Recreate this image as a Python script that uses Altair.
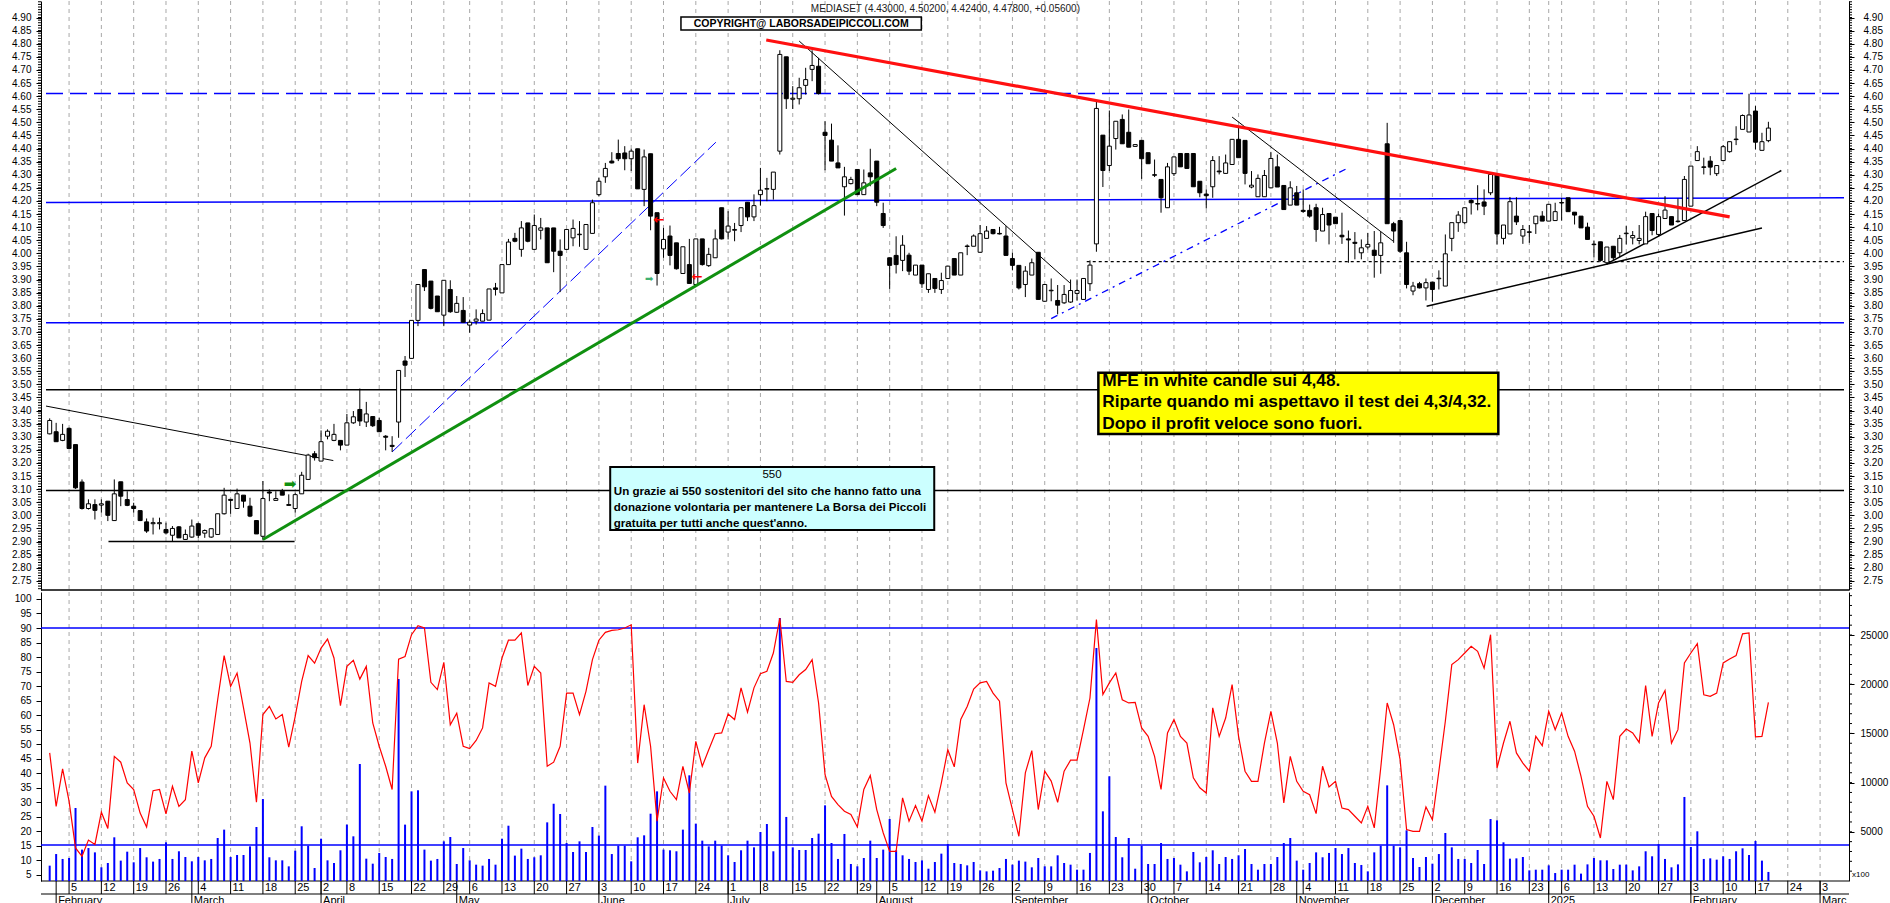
import altair as alt
import pandas as pd

# ---------------- data ----------------
OPEN = [3.311,3.319,3.286,3.332,3.270,3.127,3.026,3.041,3.039,3.054,2.980,3.128,3.060,3.035,3.018,2.975,2.968,2.968,2.946,2.924,
        2.956,2.908,2.917,2.968,2.932,2.917,2.927,3.006,3.061,3.026,3.077,3.035,2.980,2.920,3.089,3.057,3.092,3.041,3.026,3.082,
        3.137,3.235,3.207,3.302,3.286,3.286,3.268,3.353,3.404,3.356,3.377,3.362,3.302,3.267,3.356,3.589,3.599,3.744,3.938,3.894,
        3.837,3.764,3.862,3.775,3.782,3.726,3.741,3.741,3.745,3.868,3.849,3.957,4.057,4.015,4.116,4.015,4.088,4.097,4.097,4.008,
        4.015,4.059,4.071,4.015,4.076,4.224,4.292,4.352,4.381,4.383,4.361,4.399,4.244,4.380,4.155,4.017,4.066,4.040,3.923,3.957,
        3.881,4.055,3.953,3.983,4.174,4.081,4.088,4.106,4.195,4.139,4.224,4.245,4.244,4.390,4.750,4.588,4.590,4.641,4.702,4.714,
        4.462,4.432,4.345,4.254,4.266,4.320,4.224,4.307,4.352,4.152,3.983,3.992,3.973,3.993,3.917,3.955,3.862,3.904,3.862,3.904,
        3.980,3.917,4.026,4.027,4.004,4.057,4.091,4.076,4.066,3.980,3.954,3.881,3.917,4.004,3.817,3.857,3.820,3.811,3.814,3.847,
        3.824,3.884,4.036,4.451,4.335,4.438,4.511,4.462,4.408,4.431,4.384,4.300,4.282,4.174,4.304,4.381,4.381,4.381,4.275,4.226,
        4.254,4.314,4.305,4.339,4.435,4.431,4.253,4.216,4.216,4.250,4.330,4.259,4.184,4.231,4.164,4.164,4.174,4.085,4.152,4.138,
        4.069,4.055,4.042,4.002,4.024,4.012,3.992,4.418,4.113,4.125,4.002,3.856,3.884,3.868,3.890,3.903,3.875,4.057,4.117,4.117,
        4.202,4.190,4.196,4.231,4.299,4.057,4.074,4.142,4.066,4.082,4.113,4.142,4.123,4.125,4.192,4.212,4.157,4.142,4.100,4.035,
        4.044,3.964,4.027,4.002,4.075,4.059,4.049,4.036,4.152,4.072,4.133,4.140,4.123,4.125,4.180,4.354,4.330,4.352,4.304,4.354,
        4.388,4.436,4.473,4.463,4.543,4.393,4.430]
HIGH = [3.370,3.353,3.349,3.335,3.270,3.137,3.061,3.061,3.061,3.054,3.137,3.128,3.092,3.048,3.018,2.988,2.991,2.991,2.972,2.959,
        2.959,2.946,2.984,2.972,2.946,2.949,3.006,3.105,3.061,3.102,3.077,3.067,2.980,3.131,3.099,3.092,3.101,3.080,3.086,3.166,
        3.235,3.245,3.324,3.328,3.349,3.286,3.387,3.398,3.484,3.433,3.377,3.372,3.306,3.302,3.553,3.608,3.744,3.881,3.938,3.894,
        3.837,3.897,3.897,3.837,3.833,3.747,3.786,3.786,3.864,3.887,3.957,4.055,4.078,4.123,4.116,4.148,4.135,4.097,4.097,4.053,
        4.091,4.129,4.123,4.110,4.205,4.288,4.345,4.386,4.434,4.409,4.399,4.399,4.396,4.380,4.155,4.097,4.106,4.040,4.025,4.055,
        4.055,4.055,4.021,4.091,4.174,4.161,4.116,4.174,4.195,4.225,4.326,4.288,4.310,4.775,4.750,4.638,4.670,4.708,4.775,4.746,
        4.504,4.495,4.412,4.330,4.292,4.320,4.320,4.399,4.352,4.193,3.983,4.065,4.069,4.002,3.955,3.955,3.922,3.904,3.926,3.951,
        3.980,4.002,4.034,4.072,4.108,4.104,4.091,4.101,4.104,4.002,3.954,3.951,3.980,4.004,3.881,3.904,3.879,3.879,3.900,3.900,
        3.904,3.973,4.583,4.451,4.545,4.504,4.530,4.549,4.415,4.431,4.384,4.358,4.282,4.345,4.368,4.381,4.381,4.381,4.275,4.244,
        4.371,4.371,4.377,4.435,4.482,4.431,4.314,4.301,4.318,4.387,4.377,4.259,4.275,4.257,4.244,4.186,4.189,4.174,4.152,4.138,
        4.155,4.087,4.081,4.053,4.078,4.085,4.082,4.498,4.120,4.125,4.044,3.891,3.891,3.904,3.890,3.935,4.072,4.117,4.161,4.174,
        4.206,4.260,4.244,4.301,4.299,4.108,4.215,4.214,4.108,4.108,4.142,4.161,4.187,4.193,4.212,4.212,4.157,4.142,4.117,4.049,
        4.044,4.024,4.027,4.070,4.104,4.085,4.108,4.159,4.152,4.152,4.218,4.140,4.209,4.295,4.333,4.409,4.365,4.371,4.335,4.413,
        4.426,4.485,4.530,4.609,4.562,4.460,4.502]
LOW = [3.309,3.281,3.283,3.255,3.101,3.022,3.022,2.984,3.010,2.978,2.980,3.035,3.035,3.010,2.978,2.933,2.927,2.946,2.927,2.901,
       2.914,2.908,2.914,2.914,2.914,2.914,2.927,3.003,3.006,3.026,3.029,2.993,2.929,2.907,3.054,3.057,3.077,3.038,3.010,3.082,
       3.137,3.209,3.207,3.290,3.283,3.248,3.268,3.349,3.341,3.337,3.337,3.319,3.248,3.242,3.296,3.528,3.599,3.722,3.856,3.786,
       3.777,3.722,3.773,3.773,3.735,3.697,3.728,3.741,3.745,3.839,3.849,3.957,4.042,3.987,4.042,4.015,4.053,3.964,3.928,3.852,
       4.015,4.027,4.025,4.015,4.076,4.218,4.269,4.343,4.352,4.317,4.314,4.246,4.180,4.088,3.877,3.983,3.954,3.938,3.923,3.885,
       3.875,3.953,3.948,3.983,4.053,4.053,4.046,4.081,4.123,4.123,4.182,4.199,4.205,4.377,4.551,4.551,4.568,4.606,4.657,4.606,
       4.317,4.352,4.326,4.144,4.263,4.224,4.224,4.256,4.180,4.097,3.864,3.923,3.932,3.917,3.917,3.868,3.849,3.849,3.845,3.904,
       3.917,3.917,3.993,4.027,4.002,4.057,4.072,4.072,3.992,3.935,3.862,3.833,3.917,3.824,3.815,3.817,3.767,3.807,3.811,3.820,
       3.824,3.856,4.006,4.253,4.314,4.396,4.418,4.405,4.408,4.284,4.342,4.291,4.155,4.174,4.295,4.330,4.324,4.254,4.214,4.171,
       4.212,4.301,4.305,4.339,4.365,4.263,4.248,4.216,4.216,4.250,4.253,4.167,4.184,4.184,4.155,4.136,4.044,4.085,4.034,4.113,
       4.036,3.964,3.977,3.977,4.015,3.907,3.922,4.113,4.040,4.002,3.866,3.840,3.866,3.820,3.815,3.862,3.875,4.008,4.082,4.110,
       4.148,4.164,4.146,4.222,4.034,4.034,4.074,4.108,4.036,4.040,4.074,4.123,4.123,4.125,4.125,4.159,4.110,4.097,4.053,3.985,
       3.968,3.957,3.970,3.985,4.034,4.034,4.034,4.036,4.069,4.063,4.133,4.108,4.117,4.125,4.180,4.354,4.301,4.298,4.295,4.352,
       4.384,4.413,4.473,4.463,4.396,4.393,4.424]
CLOSE = [3.362,3.281,3.309,3.255,3.105,3.026,3.044,3.019,3.044,3.000,3.082,3.073,3.038,3.026,2.980,2.940,2.972,2.972,2.933,2.950,
         2.914,2.927,2.959,2.924,2.942,2.949,3.006,3.077,3.057,3.082,3.054,2.997,2.929,3.064,3.085,3.064,3.077,3.038,3.079,3.153,
         3.230,3.220,3.281,3.321,3.309,3.268,3.353,3.376,3.360,3.387,3.342,3.319,3.298,3.263,3.553,3.573,3.744,3.881,3.872,3.790,
         3.777,3.897,3.777,3.809,3.737,3.737,3.749,3.770,3.864,3.862,3.957,4.043,4.046,4.097,4.046,4.106,4.097,3.964,4.008,3.992,
         4.091,4.095,4.073,4.110,4.193,4.275,4.324,4.345,4.361,4.361,4.390,4.246,4.368,4.142,3.923,4.053,3.992,3.941,4.025,3.885,
         4.055,3.957,3.996,4.055,4.055,4.104,4.091,4.174,4.139,4.182,4.241,4.247,4.310,4.759,4.590,4.592,4.632,4.663,4.717,4.610,
         4.450,4.352,4.326,4.292,4.282,4.224,4.269,4.292,4.195,4.106,3.954,3.957,4.031,3.932,3.955,3.884,3.922,3.866,3.896,3.951,
         3.917,4.002,4.028,4.066,4.075,4.085,4.075,4.074,3.992,3.954,3.868,3.932,3.964,3.824,3.881,3.859,3.802,3.843,3.858,3.858,
         3.904,3.955,4.553,4.316,4.409,4.504,4.418,4.405,4.415,4.361,4.342,4.298,4.212,4.330,4.368,4.330,4.324,4.254,4.231,4.220,
         4.354,4.311,4.345,4.435,4.365,4.305,4.260,4.286,4.297,4.362,4.253,4.167,4.250,4.184,4.160,4.142,4.091,4.148,4.108,4.113,
         4.063,4.051,4.038,4.021,4.034,3.992,4.040,4.113,4.085,4.008,3.881,3.875,3.868,3.888,3.862,3.905,3.998,4.117,4.146,4.174,
         4.193,4.188,4.180,4.301,4.074,4.108,4.197,4.120,4.091,4.080,4.142,4.123,4.187,4.159,4.194,4.159,4.146,4.097,4.053,4.033,
         3.973,4.024,3.983,4.057,4.077,4.068,4.057,4.140,4.087,4.140,4.165,4.108,4.121,4.282,4.333,4.388,4.328,4.329,4.335,4.407,
         4.426,4.434,4.526,4.528,4.424,4.426,4.478]
OSC = [47,28.6,41.5,30.4,14.3,11.4,17,15.5,26.6,21,45.8,43.8,36.7,34.4,26.3,21.5,34,34.4,26,35.5,
       28.6,30.9,47.6,36.7,45.3,49.3,65.3,80.5,69.9,74.5,62.5,50.4,30,60.2,63,58.7,60.2,49,59.6,71.6,
       80.5,77.9,83.1,86.2,79.7,63.3,76.8,78.9,72.4,76.8,57.3,49.3,42.4,34.4,79.3,80.2,87.7,90.8,90,71.3,
       68.8,78.2,56.7,60.7,49.3,48.5,51.3,55.6,71.1,69.9,79.7,85.8,85.8,88.3,70.2,76.8,74.5,42.4,43.8,49.3,
       67.6,67.6,60.2,68.2,79.1,85.8,88.5,89.2,89.4,90,91.1,43.5,63.6,49.3,23.5,38.4,33.8,30.9,42.4,33.2,
       51,42.4,48.1,53.6,53.9,60.4,58.5,69.4,61,69.4,74.3,75.1,81.4,93.4,71.6,71.3,73.9,75.7,79.1,64.2,
       39.5,32,29.2,26.9,25.8,21.5,34.4,39.2,27.5,19.5,13.1,13.1,31.5,23.5,28.9,23.5,32.3,26.6,36.7,48.1,
       42.2,58.5,63,69,71.1,71.6,67.6,64.8,36.7,27.5,18.3,40.1,47.8,27.5,40.7,37.3,30,40.7,44.5,44.5,
       55,65.9,92.9,67.1,71.1,74.5,65.3,64.2,64.4,55.6,52.7,45.8,34.4,53.9,58.5,52.7,50.4,38.4,35,33.2,
       62.5,52.7,59,70.5,52.7,40.7,37.2,37.2,50.4,61.3,50.4,29.8,45.8,37.2,33.8,32.6,26.1,42.4,35.3,37.2,
       28,27.5,25.2,22.9,28.6,21.2,41.8,64.2,56.7,44.7,20.6,20,20,28.4,24,40.7,57.9,77.4,79.1,81.4,
       83.7,82,76.2,87.7,41.8,50.4,57.9,47,43.5,40.7,52.7,49.5,61.3,55,60.7,52.7,47.6,38.9,28.6,25.2,
       17.7,37.2,30.9,52.7,55.2,53.9,50.6,70.2,52.7,64.2,68.5,50.4,55,78,81.4,84.6,67,66.5,67.6,78,
       79.3,80.5,88,88.3,52.5,52.7,64.4]
VOL = [1560,2740,2240,2340,7420,3190,3350,2910,1390,1830,4440,2070,2980,1900,3350,2410,1970,2240,3930,2240,
       3020,2440,2000,2440,2100,2240,4370,5220,2440,2640,2640,3520,5490,8330,2410,2100,2100,1490,3080,5560,
       3590,1320,4300,2100,1830,3120,5730,4540,11890,2270,1760,2850,2440,2240,20530,5730,9110,9220,3190,2070,
       2240,4030,4470,1730,3350,2100,1660,1560,2240,1660,4300,5620,2580,3290,2240,2410,2610,5960,7860,6810,
       3860,2950,4030,2950,5490,4610,9690,2740,3590,3590,2000,4440,4640,6840,9110,3190,3120,3020,5220,10740,
       5830,4100,3520,4100,3590,2610,1930,3120,4100,3420,4980,5790,3020,26730,6510,3420,3150,3150,4370,4810,
       7690,3860,2240,4780,1730,1490,2340,4100,2340,3190,6300,3120,2610,2240,1930,2100,1250,1930,2780,3760,
       1830,1730,1590,1930,1080,980,1050,1320,2240,1660,2070,1970,1390,2340,1490,1490,2610,1830,1660,1150,
       1150,2850,23680,7080,10640,4470,2410,4370,1250,3590,1730,1730,3860,2240,2340,1660,980,2950,1900,2440,
       3120,1730,2440,2240,2610,3250,1730,1150,1730,1730,2440,3860,4370,2070,1150,1830,2910,2410,2850,3350,
       2740,3350,1830,1630,980,2910,3590,9720,3590,3420,5150,2340,1420,2440,1760,2740,4880,3420,2240,2240,
       1830,3150,1730,6300,6170,3930,2270,2300,2440,1080,1150,1150,1590,810,1150,1150,1660,750,1690,2340,
       2100,2100,1220,1660,1660,1080,1490,3020,2510,3760,2240,1390,1690,8540,3460,5050,2240,2300,2170,2510,
       2240,3020,3320,2640,4070,2070,920]

HOLIDAYS = ["2024-03-29", "2024-04-01", "2024-05-01", "2024-08-15", "2024-12-24",
            "2024-12-25", "2024-12-26", "2024-12-31", "2025-01-01"]
# the short year-end week is marked on the first session of the new year, without a day number
WEEK_MARK_MOVES = {"2024-12-30": ("2025-01-02", "")}
MONTH_LABELS = ["February", "March", "April", "May", "June", "July", "August", "September",
                "October", "November", "December", "2025", "February", "Marc"]
PRICE_TICKS = [round(2.75 + 0.05 * k, 2) for k in range(44)]
OSC_TICKS = list(range(5, 101, 5))
VOL_TICKS = [5000, 10000, 15000, 20000, 25000]

TITLE = "MEDIASET (4.43000, 4.50200, 4.42400, 4.47800, +0.05600)"
COPYRIGHT = "COPYRIGHT@ LABORSADEIPICCOLI.COM"
CYAN_TITLE = "550"
CYAN_LINES = ["Un grazie ai 550 sostenitori del sito che hanno fatto una",
              "donazione volontaria per mantenere La Borsa dei Piccoli",
              "gratuita per tutti anche quest'anno."]
YELLOW_LINES = ["MFE in white candle sui 4,48.",
                "Riparte quando mi aspettavo il test dei 4,3/4,32.",
                "Dopo il profit veloce sono fuori."]

# drawn study lines: (index0, price0, index1, price1)
LEVEL_LINES = [
    dict(pts=(-0.57, 4.61, 277.7, 4.61), color="#0000ff", w=1.5, dash=[17, 7]),
    dict(pts=(-0.57, 4.194, 277.7, 4.212), color="#0000ff", w=1.5, dash=None),
    dict(pts=(-0.57, 3.735, 277.7, 3.735), color="#0000ff", w=1.5, dash=None),
    dict(pts=(-0.57, 3.479, 277.7, 3.479), color="black", w=1.5, dash=None),
    dict(pts=(-0.57, 3.095, 277.7, 3.095), color="black", w=1.5, dash=None),
    dict(pts=(160.5, 3.968, 277.7, 3.968), color="black", w=1.2, dash=[3, 3]),
    dict(pts=(9.1, 2.900, 37.9, 2.900), color="black", w=1.5, dash=None),
]
TREND_LINES = [
    dict(pts=(-0.57, 3.417, 43.9, 3.209), color="black", w=1, dash=None),
    dict(pts=(53.0, 3.242, 103.1, 4.424), color="#0000ff", w=1, dash=[14, 5]),
    dict(pts=(116.0, 4.810, 157.9, 3.887), color="black", w=1, dash=None),
    dict(pts=(155.0, 3.751, 200.8, 4.324), color="#0000ff", w=1.3, dash=[7, 5, 2, 5]),
    dict(pts=(183.0, 4.520, 207.9, 4.047), color="black", w=1, dash=None),
    dict(pts=(213.1, 3.798, 265.0, 4.097), color="black", w=1.5, dash=None),
    dict(pts=(241.0, 3.960, 268.0, 4.316), color="black", w=1.5, dash=None),
    dict(pts=(33.0, 2.908, 131.0, 4.324), color="#109010", w=3, dash=None),
    dict(pts=(110.9, 4.814, 260.0, 4.139), color="#ff1010", w=3.2, dash=None),
]

# ---------------- geometry ----------------
XMIN, XMAX = -0.57, 277.7
W, HT, HB = 1808, 589, 289
XS = alt.Scale(domain=[XMIN, XMAX], nice=False, zero=False)
PS = alt.Scale(domain=[2.715, 4.963], nice=False, zero=False)
RS = alt.Scale(domain=[2.9, 102.4], nice=False, zero=False)
VS = alt.Scale(domain=[0, 29370], nice=False, zero=False)

AX = dict(title=None, grid=False, domainColor="black", domainWidth=1, tickColor="black",
          tickSize=5, labelColor="black", labelFont="Liberation Sans", labelFontSize=10,
          labelOverlap=False, labelFlush=False, labelBound=False, minExtent=41, maxExtent=41)
PAX_L = alt.Axis(orient="left", values=PRICE_TICKS, format=".2f", labelPadding=5, **AX)
PAX_R = alt.Axis(orient="right", values=PRICE_TICKS, format=".2f", labelPadding=9, **AX)
OAX_L = alt.Axis(orient="left", values=OSC_TICKS, format="d", labelPadding=5, **AX)
VAX_R = alt.Axis(orient="right", values=VOL_TICKS, format="d", labelPadding=6, **AX)

X = alt.X("i:Q", scale=XS, axis=None)


def YP(field):
    return alt.Y(field, scale=PS, axis=PAX_L)


# ---------------- calendar ----------------
cal = pd.bdate_range("2024-01-31", "2025-03-07")
cal = cal[~cal.isin(pd.to_datetime(HOLIDAYS))]
cal_df = pd.DataFrame({"date": cal, "i": range(len(cal))})
pos = {d.strftime("%Y-%m-%d"): k for k, d in enumerate(cal)}
wd = cal_df["date"].dt.weekday
wk_df = cal_df[(wd.diff() < 0)].copy()
wk_df["lab"] = wk_df["date"].dt.day.astype(str)
for src, (dst, lab) in WEEK_MARK_MOVES.items():
    m = wk_df["i"] == pos[src]
    wk_df.loc[m, "i"] = pos[dst]
    wk_df.loc[m, "lab"] = lab
wk_df = wk_df[["i", "lab"]]
mo_df = cal_df[(cal_df["date"].dt.month.diff() != 0) & (cal_df["i"] > 0)].copy()
mo_df = mo_df[["i"]].reset_index(drop=True)
mo_df["lab"] = MONTH_LABELS[:len(mo_df)]

n = len(OPEN)
cdf = pd.DataFrame({"i": range(n), "o": OPEN, "h": HIGH, "l": LOW, "c": CLOSE})
cdf["up"] = cdf["c"] >= cdf["o"]
odf = pd.DataFrame({"i": range(n), "v": OSC})
vdf = pd.DataFrame({"i": range(n), "vol": VOL})


def seg_layer(spec):
    i0, p0, i1, p1 = spec["pts"]
    d = pd.DataFrame({"i": [i0, i1], "p": [p0, p1]})
    kw = dict(color=spec["color"], strokeWidth=spec["w"], clip=True)
    if spec["dash"]:
        kw["strokeDash"] = spec["dash"]
    return alt.Chart(d).mark_line(**kw).encode(x=X, y=YP("p:Q"))


def text_layer(i, p, t, **kw):
    d = pd.DataFrame({"i": i, "p": p, "t": t})
    return alt.Chart(d).mark_text(**kw).encode(x=X, y=YP("p:Q"), text="t:N")


# ---------------- top panel ----------------
T = []
T.append(alt.Chart(wk_df).mark_rule(color="#a8a8a8", strokeDash=[4, 4], strokeWidth=1)
         .encode(x=X, y=alt.value(0), y2=alt.value(HT)))
for s in LEVEL_LINES:
    T.append(seg_layer(s))
for s in TREND_LINES[:7]:
    T.append(seg_layer(s))

T.append(alt.Chart(cdf).mark_rule(color="black", strokeWidth=1)
         .encode(x=X, y=YP("l:Q"), y2="h:Q"))
T.append(alt.Chart(cdf).mark_bar(size=4, stroke="black", strokeWidth=1)
         .encode(x=X, y=YP("o:Q"), y2="c:Q",
                 fill=alt.condition("datum.up", alt.value("white"), alt.value("black"))))
for s in TREND_LINES[7:]:
    T.append(seg_layer(s))

# annotation boxes (index / price coordinates)
boxes = pd.DataFrame({
    "i0": [97.7, 86.75, 162.3], "i1": [134.9, 136.9, 224.2],
    "p0": [4.9015, 3.184, 3.544], "p1": [4.852, 2.944, 3.310],
    "fill": ["white", "#ccffff", "#ffff00"], "sw": [1.5, 2, 2.5]})
for k in range(3):
    T.append(alt.Chart(boxes.iloc[[k]]).mark_rect(fill=boxes["fill"][k], stroke="black",
                                                  strokeWidth=float(boxes["sw"][k]))
             .encode(x=alt.X("i0:Q", scale=XS, axis=None), x2="i1:Q", y=YP("p0:Q"), y2="p1:Q"))

T.append(text_layer([117.8], [4.932], [TITLE], align="left", baseline="middle",
                    font="Liberation Sans", fontSize=10, color="#202020"))
T.append(text_layer([116.3], [4.877], [COPYRIGHT], align="center", baseline="middle",
                    font="Liberation Sans", fontSize=10.5, fontWeight="bold", color="black"))
T.append(text_layer([111.8], [3.153], [CYAN_TITLE], align="center", baseline="middle",
                    font="Liberation Sans", fontSize=11.5, color="black"))
T.append(text_layer([87.3] * 3, [3.090, 3.029, 2.968], CYAN_LINES, align="left", baseline="middle",
                    font="Liberation Sans", fontSize=11.6, fontWeight="bold", color="black"))
T.append(text_layer([162.9] * 3, [3.512, 3.433, 3.349], YELLOW_LINES, align="left", baseline="middle",
                    font="Liberation Sans", fontSize=17.3, fontWeight="bold", color="black"))
# signal arrows
T.append(text_layer([37.2], [3.120], ["➡"], font="DejaVu Sans", fontSize=15, color="#109010", baseline="middle"))
T.append(text_layer([92.8], [3.903], ["➡"], font="DejaVu Sans", fontSize=10, color="#40b070", baseline="middle"))
T.append(text_layer([94.3, 100.2], [4.129, 3.911], ["←", "←"], font="DejaVu Sans", fontSize=13,
                    fontWeight="bold", color="#ff0000", baseline="middle"))

minor_p = pd.DataFrame({"p": [round(2.72 + 0.01 * k, 2) for k in range(225)]})
T.append(alt.Chart(minor_p).mark_rule(color="black", strokeWidth=1)
         .encode(y=YP("p:Q"), x=alt.value(-3), x2=alt.value(0)))
T.append(alt.Chart(minor_p).mark_rule(color="black", strokeWidth=1)
         .encode(y=YP("p:Q"), x=alt.value(W), x2=alt.value(W + 3)))
T.append(alt.Chart(pd.DataFrame({"k": [0]})).mark_rule(color="black", strokeWidth=1.5)
         .encode(x=alt.value(0), x2=alt.value(W), y=alt.value(HT)))

right_price = alt.Chart(pd.DataFrame({"p": [3.5]})).mark_rule(opacity=0).encode(
    y=alt.Y("p:Q", scale=PS, axis=PAX_R))
top = alt.layer(alt.layer(*T), right_price).resolve_scale(y="independent").properties(width=W, height=HT)

# ---------------- lower panel ----------------
A = []
A.append(alt.Chart(wk_df).mark_rule(color="#a8a8a8", strokeDash=[4, 4], strokeWidth=1)
         .encode(x=X, y=alt.value(0), y2=alt.value(HB)))
A.append(alt.Chart(pd.DataFrame({"v": [90]})).mark_rule(color="#0000ff", strokeWidth=1.5)
         .encode(y=alt.Y("v:Q", scale=RS, axis=OAX_L)))
# time axis drawn below the panel
A.append(alt.Chart(pd.DataFrame({"y": [HB, HB + 13]})).mark_rule(color="black", strokeWidth=1.2)
         .encode(x=alt.value(0), x2=alt.value(W), y=alt.Y("y:Q", scale=None)))
A.append(alt.Chart(wk_df).mark_rule(color="black", strokeWidth=1)
         .encode(x=X, y=alt.value(HB), y2=alt.value(HB + 13)))
A.append(alt.Chart(mo_df).mark_rule(color="black", strokeWidth=1)
         .encode(x=X, y=alt.value(HB), y2=alt.value(HB + 26)))
A.append(alt.Chart(wk_df).mark_text(align="left", baseline="middle", dx=2, font="Liberation Sans",
                                    fontSize=11, color="black")
         .encode(x=X, y=alt.value(HB + 7), text="lab:N"))
A.append(alt.Chart(mo_df).mark_text(align="left", baseline="middle", dx=2, font="Liberation Sans",
                                    fontSize=11, color="black")
         .encode(x=X, y=alt.value(HB + 20), text="lab:N"))
base = alt.layer(*A)

B = []
B.append(alt.Chart(vdf).mark_bar(size=2, color="#0000ff")
         .encode(x=X, y=alt.Y("vol:Q", scale=VS, axis=VAX_R)))
B.append(alt.Chart(pd.DataFrame({"vol": [3660]})).mark_rule(color="#0000ff", strokeWidth=1.5)
         .encode(y=alt.Y("vol:Q", scale=VS, axis=VAX_R)))
B.append(alt.Chart(pd.DataFrame({"vol": list(range(1000, 29001, 1000))})).mark_rule(color="black", strokeWidth=1)
         .encode(y=alt.Y("vol:Q", scale=VS, axis=VAX_R), x=alt.value(W), x2=alt.value(W + 3)))
B.append(alt.Chart(pd.DataFrame({"t": ["x100"]})).mark_text(font="Liberation Sans", fontSize=8,
                                                           align="left", baseline="middle", color="black")
         .encode(x=alt.value(W + 3), y=alt.value(HB - 6), text="t:N"))
vol_layer = alt.layer(*B)

osc_line = alt.Chart(odf).mark_line(color="#ff0000", strokeWidth=1.2).encode(
    x=X, y=alt.Y("v:Q", scale=RS, axis=None))

bottom = alt.layer(base, vol_layer, osc_line).resolve_scale(y="independent").properties(width=W, height=HB)

chart = alt.vconcat(top, bottom, spacing=0).configure_view(stroke=None).properties(
    padding=0, background="white")

chart.save("out.html", embed_options={"renderer": "svg", "actions": False})
